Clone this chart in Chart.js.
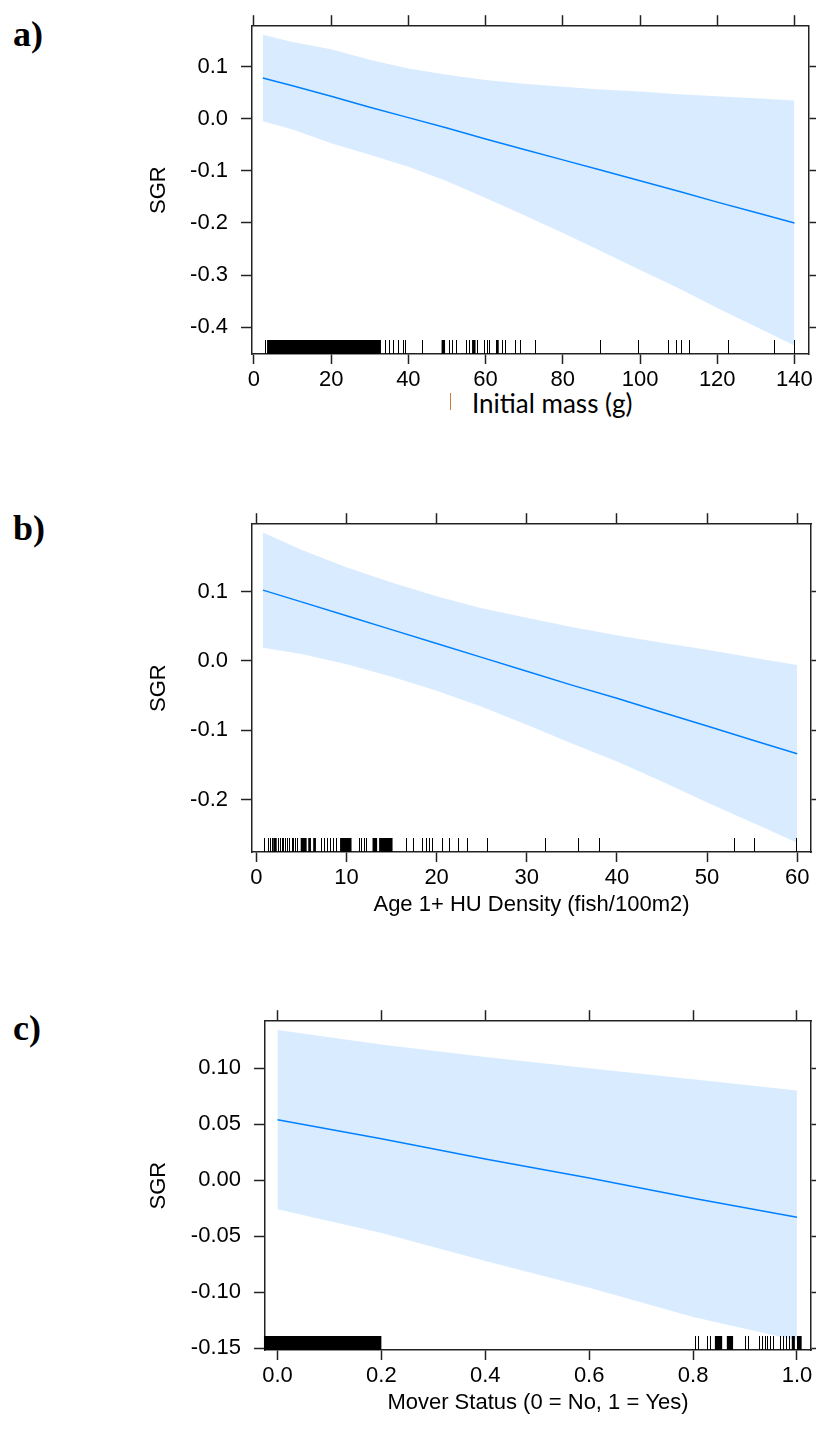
<!DOCTYPE html>
<html>
<head>
<meta charset="utf-8">
<title>SGR effect plots</title>
<script src="https://cdn.jsdelivr.net/npm/chart.js@4.4.1/dist/chart.umd.min.js"></script>
<style>
  html, body { margin: 0; padding: 0; background: #fff; }
  body { width: 816px; height: 1439px; position: relative; overflow: hidden; }
  canvas { position: absolute; left: 0; }
  .tag { position: absolute; left: 13px; font: bold 36px "Liberation Serif", "Times New Roman", serif; color: #000; line-height: 36px; }
  .xname { position: absolute; font: 26px Lato, "Open Sans", sans-serif; color: #000; line-height: 30px; white-space: nowrap; }
  .bar { position: absolute; width: 1px; background: #c87b3c; }
</style>
</head>
<body>
<div class="tag" style="top:16px">a)</div>
<div class="tag" style="top:510px">b)</div>
<div class="tag" style="top:1010px">c)</div>
<div class="bar" style="left:450px; top:393px; height:17px"></div>
<div class="xname" style="left:472px; top:388px">Initial mass (g)</div>

<canvas id="panelA" width="816" height="424" style="top:0px"></canvas>
<canvas id="panelB" width="816" height="424" style="top:498px"></canvas>
<canvas id="panelC" width="816" height="425" style="top:995px"></canvas>

<script>
// ---------- a) Initial mass ----------
const massX     = [2.3, 10, 20, 30, 40, 50, 60, 70, 80, 90, 100, 110, 120, 130, 140];
const massFit   = [0.078, 0.063, 0.043, 0.022, 0.002, -0.018, -0.039, -0.059, -0.079, -0.099, -0.119, -0.139, -0.160, -0.180, -0.200];
const massUpper = [0.161, 0.147, 0.133, 0.113, 0.096, 0.084, 0.074, 0.067, 0.061, 0.056, 0.052, 0.047, 0.043, 0.039, 0.035];
const massLower = [-0.005, -0.021, -0.047, -0.069, -0.092, -0.120, -0.152, -0.185, -0.219, -0.254, -0.290, -0.325, -0.363, -0.399, -0.435];
const massRugTicks  = [2.8, 34.0, 35.1, 36.1, 37.3, 38.5, 39.2, 43.5, 50.5, 51.4, 52.4, 55.0, 55.7, 57.9, 59.6, 60.4, 60.8, 64.3, 65.1, 67.7, 69.0, 72.7, 89.6, 99.4, 107.3, 109.4, 110.6, 112.7, 122.9, 134.7, 140.0];
const massRugBlocks = [[3.4, 32.9], [48.6, 49.5], [56.5, 57.4], [62.7, 63.4]];
const massXTicks  = [0, 20, 40, 60, 80, 100, 120, 140];
const massXLabels = ['0', '20', '40', '60', '80', '100', '120', '140'];
const massYTicks  = [-0.4, -0.3, -0.2, -0.1, 0.0, 0.1];
const massYLabels = ['-0.4', '-0.3', '-0.2', '-0.1', '0.0', '0.1'];

// ---------- b) Age 1+ HU density ----------
const densX     = [0.74, 5, 10, 15, 20, 25, 30, 35, 40, 45, 50, 55, 60];
const densFit   = [0.102, 0.085, 0.065, 0.045, 0.025, 0.005, -0.015, -0.035, -0.054, -0.074, -0.094, -0.114, -0.134];
const densUpper = [0.185, 0.160, 0.135, 0.113, 0.093, 0.076, 0.062, 0.049, 0.037, 0.026, 0.016, 0.005, -0.006];
const densLower = [0.019, 0.010, -0.005, -0.023, -0.043, -0.066, -0.092, -0.119, -0.145, -0.174, -0.204, -0.233, -0.262];
const densRugTicks  = [0.85, 1.30, 1.52, 1.74, 2.44, 2.62, 2.84, 2.99, 3.21, 3.43, 3.65, 3.91, 4.10, 4.32, 4.54, 7.20, 7.50, 7.86, 8.16, 8.53, 8.82, 11.39, 11.56, 11.93, 12.12, 16.58, 17.39, 18.35, 18.87, 19.16, 19.53, 20.64, 21.37, 22.41, 23.37, 25.58, 31.97, 35.67, 38.06, 52.95, 55.20, 59.90];
const densRugBlocks = [[1.88, 2.26], [4.92, 5.58], [5.76, 6.06], [6.31, 6.61], [9.29, 10.56], [12.89, 13.40], [13.62, 15.11]];
const densXTicks  = [0, 10, 20, 30, 40, 50, 60];
const densXLabels = ['0', '10', '20', '30', '40', '50', '60'];
const densYTicks  = [-0.2, -0.1, 0.0, 0.1];
const densYLabels = ['-0.2', '-0.1', '0.0', '0.1'];

// ---------- c) Mover status ----------
const moverX     = [0, 0.2, 0.4, 0.6, 0.8, 1.0];
const moverFit   = [0.054, 0.037, 0.019, 0.002, -0.016, -0.033];
const moverUpper = [0.134, 0.121, 0.110, 0.100, 0.090, 0.080];
const moverLower = [-0.026, -0.047, -0.072, -0.096, -0.122, -0.143];
const moverRugTicks  = [0.804, 0.810, 0.826, 0.833, 0.900, 0.906, 0.927, 0.932, 0.938, 0.943, 0.948, 0.953, 0.967, 0.973, 0.979, 0.985];
const moverRugBlocks = [[-0.026, 0.200], [0.842, 0.856], [0.865, 0.877], [0.990, 0.996], [1.000, 1.009]];
const moverXTicks  = [0, 0.2, 0.4, 0.6, 0.8, 1.0];
const moverXLabels = ['0.0', '0.2', '0.4', '0.6', '0.8', '1.0'];
const moverYTicks  = [-0.15, -0.10, -0.05, 0.00, 0.05, 0.10];
const moverYLabels = ['-0.15', '-0.10', '-0.05', '0.00', '0.05', '0.10'];

const INK = '#222';
const FIT_COLOR = '#0080ff';
const BAND_COLOR = 'rgba(0, 128, 255, 0.15)';
const SANS = '"Liberation Sans", Arial, sans-serif';

// rug of observed values along the bottom of the panel
const rugPlugin = {
  id: 'rug',
  afterDatasetsDraw(chart, args, opts) {
    const { ctx, chartArea } = chart;
    const xs = chart.scales.x;
    const y1 = chartArea.bottom;
    const y0 = y1 - opts.height;
    ctx.save();
    ctx.strokeStyle = '#000';
    ctx.fillStyle = '#000';
    ctx.lineWidth = 1;
    for (const v of opts.ticks) {
      const px = Math.round(xs.getPixelForValue(v)) + 0.5;
      ctx.beginPath();
      ctx.moveTo(px, y0);
      ctx.lineTo(px, y1);
      ctx.stroke();
    }
    for (const [a, b] of opts.blocks) {
      const pa = xs.getPixelForValue(a);
      const pb = xs.getPixelForValue(b);
      ctx.fillRect(pa, y0, pb - pa, y1 - y0);
    }
    ctx.restore();
  }
};

const pts = (xs, ys) => xs.map((x, i) => ({ x, y: ys[i] }));
const fixedTicks = vals => scale => { scale.ticks = vals.map(v => ({ value: v })); };
const tickGrid = len => ({
  display: true, drawOnChartArea: false, drawTicks: true,
  tickLength: len, tickColor: INK, tickWidth: 1.5
});
const frame = { display: true, color: INK, width: 1.5 };

function makePanel(id, p) {
  return new Chart(document.getElementById(id), {
    type: 'line',
    data: {
      datasets: [
        { data: pts(p.x, p.upper), borderWidth: 0, pointRadius: 0, backgroundColor: BAND_COLOR, fill: '+1', tension: 0 },
        { data: pts(p.x, p.lower), borderWidth: 0, pointRadius: 0, backgroundColor: BAND_COLOR, fill: false, tension: 0 },
        { data: pts(p.x, p.fit), borderColor: FIT_COLOR, borderWidth: 1.5, pointRadius: 0, fill: false, tension: 0 }
      ]
    },
    options: {
      responsive: false,
      animation: false,
      events: [],
      layout: { padding: 0 },
      plugins: {
        legend: { display: false },
        tooltip: { enabled: false },
        rug: { ticks: p.rugTicks, blocks: p.rugBlocks, height: 14 }
      },
      scales: {
        x: {
          type: 'linear', position: 'bottom', min: p.xMin, max: p.xMax,
          afterBuildTicks: fixedTicks(p.xTicks),
          afterFit: s => { s.height = 70; },
          ticks: {
            autoSkip: false, maxRotation: 0, padding: 3, color: '#000',
            font: { family: SANS, size: 22, lineHeight: 1.2 },
            callback: (v, i) => p.xLabels[i]
          },
          grid: tickGrid(10),
          border: frame,
          title: {
            display: !!p.xTitle, text: p.xTitle || '', color: '#000',
            font: { family: SANS, size: 22, lineHeight: 1.2 },
            padding: { top: 0, bottom: 4 }
          }
        },
        xTop: {
          type: 'linear', position: 'top', min: p.xMin, max: p.xMax,
          afterBuildTicks: fixedTicks(p.xTicks),
          afterFit: s => { s.height = 18; },
          ticks: { display: false },
          grid: tickGrid(11),
          border: frame
        },
        y: {
          type: 'linear', position: 'left', min: p.yMin, max: p.yMax,
          afterBuildTicks: fixedTicks(p.yTicks),
          afterFit: s => { s.width = p.yWidth; },
          ticks: {
            autoSkip: false, padding: 13, color: '#000',
            font: { family: SANS, size: 22, lineHeight: 1.2 },
            callback: (v, i) => p.yLabels[i]
          },
          grid: tickGrid(11),
          border: frame,
          title: {
            display: true, text: 'SGR', color: '#000',
            font: { family: SANS, size: 22, lineHeight: 1.2 },
            padding: { top: 146, bottom: 0 }
          }
        },
        yRight: {
          type: 'linear', position: 'right', min: p.yMin, max: p.yMax,
          afterBuildTicks: fixedTicks(p.yTicks),
          afterFit: s => { s.width = 5; },
          ticks: { display: false },
          grid: tickGrid(11),
          border: frame
        }
      }
    },
    plugins: [rugPlugin]
  });
}

makePanel('panelA', {
  x: massX, fit: massFit, upper: massUpper, lower: massLower,
  rugTicks: massRugTicks, rugBlocks: massRugBlocks,
  xTicks: massXTicks, xLabels: massXLabels, yTicks: massYTicks, yLabels: massYLabels,
  xMin: -0.5, xMax: 143.6, yMin: -0.4511, yMax: 0.1772, yWidth: 252,
  xTitle: null
});

makePanel('panelB', {
  x: densX, fit: densFit, upper: densUpper, lower: densLower,
  rugTicks: densRugTicks, rugBlocks: densRugBlocks,
  xTicks: densXTicks, xLabels: densXLabels, yTicks: densYTicks, yLabels: densYLabels,
  xMin: -0.48, xMax: 61.53, yMin: -0.2755, yMax: 0.197, yWidth: 252,
  xTitle: 'Age 1+ HU Density (fish/100m2)'
});

makePanel('panelC', {
  x: moverX, fit: moverFit, upper: moverUpper, lower: moverLower,
  rugTicks: moverRugTicks, rugBlocks: moverRugBlocks,
  xTicks: moverXTicks, xLabels: moverXLabels, yTicks: moverYTicks, yLabels: moverYLabels,
  xMin: -0.024, xMax: 1.027, yMin: -0.1515, yMax: 0.1419, yWidth: 265,
  xTitle: 'Mover Status (0 = No, 1 = Yes)'
});
</script>
</body>
</html>
